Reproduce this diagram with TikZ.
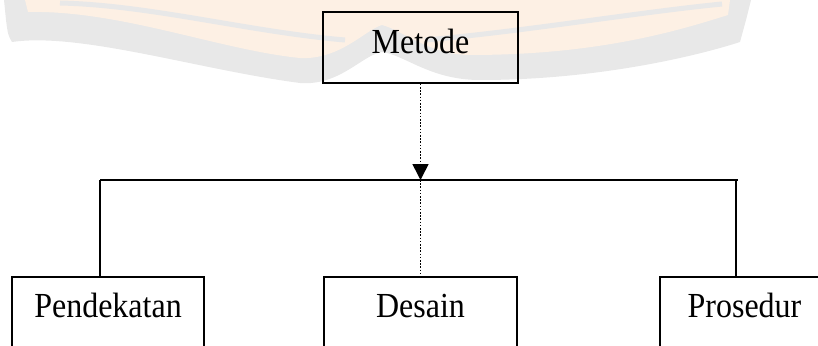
\documentclass[tikz,border=0pt]{standalone}
\usepackage{fontspec}
\setmainfont{Liberation Serif}
\usetikzlibrary{arrows.meta}
\definecolor{wmgray}{HTML}{E8E8E8}
\definecolor{wmorange}{HTML}{FDF0E4}
\newcommand{\tallword}[1]{\scalebox{1}[1.1]{#1}}
\begin{document}
\begin{tikzpicture}[x=1pt,y=-1pt,
  boxtext/.style={font=\fontsize{32}{36}\selectfont},
  topbox/.style={draw, line width=1.4pt, inner sep=0pt, boxtext,
    minimum width=195pt, minimum height=71pt, text height=23pt, text depth=12pt},
  lowbox/.style={draw, line width=1.4pt, inner sep=0pt, boxtext,
    minimum height=83pt, text height=23pt, text depth=26pt},
  dotline/.style={line width=1.6pt, dash pattern=on 1.6pt off 1.6pt},
  busline/.style={line width=2pt},
  dropline/.style={line width=1.2pt}]
\useasboundingbox (0,0) rectangle (818,345);
\clip (0,0) rectangle (818,345);

% faint book-shaped watermark behind the chart
\fill[wmgray] (4,0) -- (6,20) .. controls (8,35) .. (12,42)
  .. controls (80,32) and (200,70) .. (300,83)
  .. controls (340,86) and (362,55) .. (382,52)
  .. controls (405,55) and (430,80) .. (480,80)
  .. controls (600,80) and (700,55) .. (740,42)
  -- (746,20) -- (751,0) -- cycle;
\fill[wmorange] (25,0) -- (28,12) .. controls (120,10) and (220,50) .. (300,58)
  .. controls (340,60) and (365,30) .. (382,25)
  .. controls (402,30) and (430,55) .. (470,55)
  .. controls (600,55) and (680,30) .. (728,15) -- (730,0) -- cycle;
\draw[wmgray, line width=5pt] (60,3) .. controls (150,5) and (250,32) .. (345,40);
\draw[wmgray, line width=5pt] (425,40) .. controls (520,32) and (640,12) .. (722,4);

% nodes
\node[topbox] (metode) at (420.5,47.5) {\tallword{Metode}};
\node[lowbox, minimum width=192pt] (pendekatan) at (108,318.5) {\tallword{Pendekatan}};
\node[lowbox, minimum width=193pt] (desain) at (420.5,318.5) {\tallword{Desain}};
\node[lowbox, minimum width=169pt] (prosedur) at (744.5,318.5) {\tallword{Prosedur}};

% bus line and drops
\coordinate (busL) at (100,180);
\coordinate (busR) at (738,180);
\coordinate (dropR) at (736,180);
\coordinate (busM) at (metode.south |- busL);

\draw[dotline, -{Triangle[width=16pt,length=16pt]}] (metode.south) -- (busM);
\draw[dotline] (busM) -- (desain.north);
\draw[busline] (busL) -- (busR);
\draw[dropline] (busL) -- (busL |- pendekatan.north);
\draw[dropline] (dropR) -- (dropR |- prosedur.north);
\end{tikzpicture}
\end{document}
